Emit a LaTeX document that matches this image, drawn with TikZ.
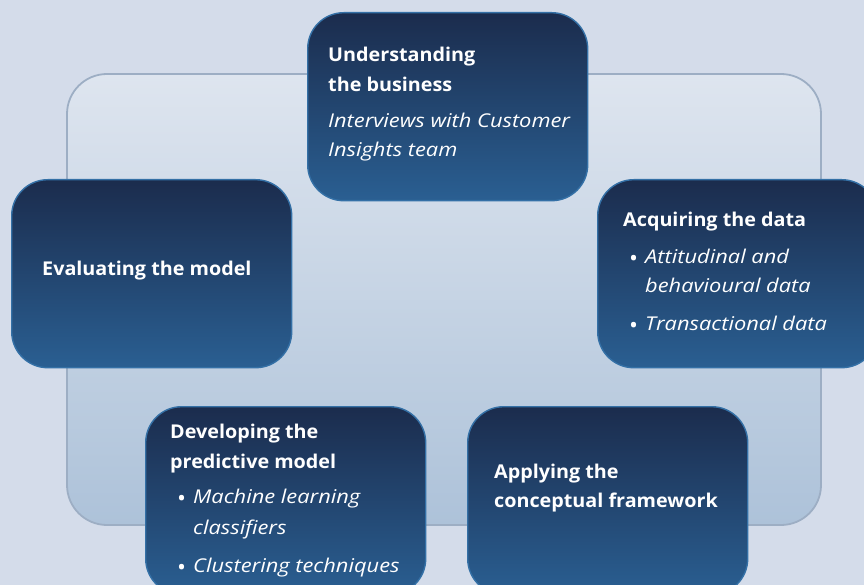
\documentclass[tikz,border=0pt]{standalone}
\usepackage{fontspec}
\setmainfont{Open Sans}[Ligatures=NoCommon, FakeStretch=1.04]
\newfontfamily\notefont{Open Sans}[Ligatures=NoCommon, FakeStretch=1.15]
\begin{document}
\begin{tikzpicture}[x=1pt,y=-1pt,
  stage/.style={draw=boxedge, line width=1.4pt, rounded corners=36pt,
    top color=boxtop, bottom color=boxbottom, minimum width=280pt,
    minimum height=188pt, inner sep=0pt, anchor=north west},
  head/.style={anchor=base west, inner sep=0pt, text=white,
    font=\fontsize{19}{23}\selectfont\bfseries},
  note/.style={anchor=base west, inner sep=0pt, text=white,
    font=\notefont\fontsize{19}{23}\selectfont\itshape},
  dot/.style={anchor=base west, inner sep=0pt, text=white,
    font=\fontsize{23}{23}\selectfont}]
\definecolor{pagebg}{HTML}{D4DCEA}
\definecolor{ringtop}{HTML}{DEE5EF}
\definecolor{ringbottom}{HTML}{ADC2D9}
\definecolor{ringedge}{HTML}{9DAEC4}
\definecolor{boxtop}{HTML}{1B2C4D}
\definecolor{boxbottom}{HTML}{2A5F92}
\definecolor{boxedge}{HTML}{3470A6}

\useasboundingbox (0,0) rectangle (864,585);
\clip (0,0) rectangle (864,585);
\fill[pagebg] (0,0) rectangle (864,585);

% surrounding cycle panel
\draw[ringedge, line width=1.8pt, rounded corners=40pt,
  top color=ringtop, bottom color=ringbottom] (67,74) rectangle (821,525);

% the five stages
\node[stage] (business) at (307,12) {};
\node[stage] (data) at (597,179) {};
\node[stage] (evaluate) at (11,179) {};
\node[stage] (develop) at (145,406) {};
\node[stage] (apply) at (467,406) {};

% Understanding the business
\node[head] (b1) at (328,62) {Understanding};
\node[head] (b2) at (328,92) {the business};
\node[note] (b3) at (328,128) {Interviews with Customer};
\node[note] (b4) at (328,157) {Insights team};

% Acquiring the data
\node[head] (d1) at (623,227) {Acquiring the data};
\node[dot] (d2) at (629,266) {•};
\node[note] (d3) at (645,263) {Attitudinal and};
\node[note] (d4) at (645,292) {behavioural data};
\node[dot] (d5) at (629,333) {•};
\node[note] (d6) at (645,330) {Transactional data};

% Evaluating the model
\node[head] (e1) at (42,275) {Evaluating the model};

% Developing the predictive model
\node[head] (p1) at (170,438) {Developing the};
\node[head] (p2) at (170,468) {predictive model};
\node[dot] (p3) at (177,506) {•};
\node[note] (p4) at (193,503) {Machine learning};
\node[note] (p5) at (193,534) {classifiers};
\node[dot] (p6) at (177,575) {•};
\node[note] (p7) at (193,572) {Clustering techniques};

% Applying the conceptual framework
\node[head] (a1) at (494,478) {Applying the};
\node[head] (a2) at (494,507) {conceptual framework};
\end{tikzpicture}
\end{document}
